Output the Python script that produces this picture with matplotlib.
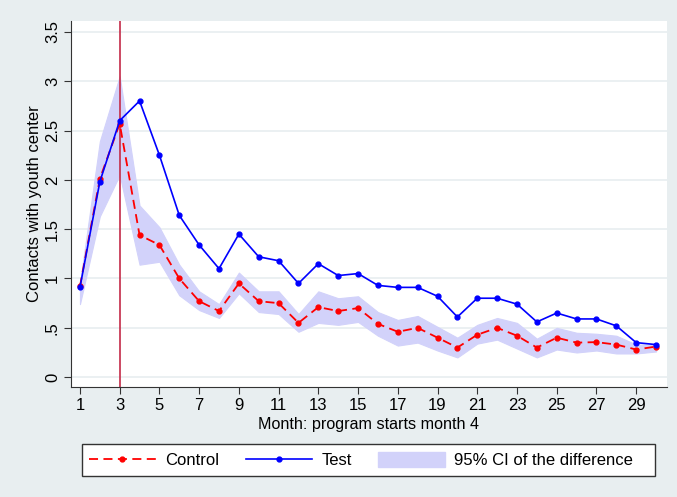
import numpy as np
import matplotlib.pyplot as plt
from matplotlib.patches import Patch, Rectangle
from matplotlib.lines import Line2D

plt.rcParams['font.family'] = ['Liberation Sans Narrow', 'Liberation Sans', 'DejaVu Sans']

months = np.arange(1, 31)

# mean monthly contacts per group
test = [0.91, 1.98, 2.60, 2.80, 2.25, 1.64, 1.34, 1.10, 1.45, 1.22,
        1.18, 0.95, 1.15, 1.03, 1.05, 0.93, 0.91, 0.91, 0.82, 0.61,
        0.80, 0.80, 0.74, 0.56, 0.65, 0.59, 0.59, 0.52, 0.35, 0.33]
control = [0.92, 2.01, 2.57, 1.44, 1.34, 1.00, 0.77, 0.67, 0.95, 0.77,
           0.75, 0.55, 0.71, 0.67, 0.70, 0.54, 0.46, 0.50, 0.40, 0.30,
           0.43, 0.50, 0.42, 0.30, 0.40, 0.35, 0.355, 0.33, 0.28, 0.31]

# 95% CI of the difference, drawn around the control series
ci_upper = [0.95, 2.39, 3.05, 1.74, 1.52, 1.14, 0.87, 0.74, 1.06, 0.87,
            0.87, 0.64, 0.87, 0.80, 0.82, 0.66, 0.58, 0.62, 0.51, 0.40,
            0.53, 0.60, 0.55, 0.39, 0.50, 0.45, 0.44, 0.42, 0.33, 0.33]
ci_lower = [0.74, 1.63, 2.05, 1.14, 1.17, 0.83, 0.68, 0.60, 0.85, 0.66,
            0.64, 0.46, 0.55, 0.53, 0.56, 0.42, 0.32, 0.35, 0.27, 0.20,
            0.34, 0.38, 0.29, 0.20, 0.28, 0.25, 0.27, 0.24, 0.24, 0.26]

start_month = 3
xticks = np.arange(1, 30, 2)
yticks = [0, 0.5, 1, 1.5, 2, 2.5, 3, 3.5]
ytick_labels = ['0', '.5', '1', '1.5', '2', '2.5', '3', '3.5']

bg = '#e8eef0'
band_col = '#d2d2fa'

fig = plt.figure(figsize=(6.77, 4.97), dpi=100, facecolor=bg)
ax = fig.add_axes([0.1049, 0.2213, 0.8803, 0.7364])
ax.set_facecolor('white')

ax.fill_between(months, ci_lower, ci_upper, color=band_col, lw=0.8, zorder=1)
ax.axvline(start_month, color='#c42a48', lw=1.2, zorder=2)
ax.plot(months, control, color='red', ls=(0, (5, 3)), lw=1.3,
        marker='o', ms=3.5, zorder=3)
ax.plot(months, test, color='blue', lw=1.2, marker='o', ms=3.5, zorder=4)

ax.set_xlim(0.55, 30.55)
ax.set_ylim(-0.1, 3.61)
ax.set_xticks(xticks)
ax.set_yticks(yticks)
ax.set_yticklabels(ytick_labels, rotation=90, va='center')
ax.yaxis.grid(True, color=bg, lw=1.2)
ax.set_axisbelow(True)
ax.tick_params(axis='both', labelsize=12, length=5, color='#333333', pad=3)

for s in ['top', 'right']:
    ax.spines[s].set_visible(False)
for s in ['left', 'bottom']:
    ax.spines[s].set_color('#333333')

ax.set_xlabel('Month: program starts month 4', fontsize=11.6, labelpad=3)
ax.set_ylabel('Contacts with youth center', fontsize=12, labelpad=2)

# legend box below the plot
fig.patches.append(Rectangle((82 / 677, 21 / 497), 573 / 677, 32 / 497,
                             transform=fig.transFigure, facecolor='white',
                             edgecolor='#333333', lw=1.0, zorder=0))

handles = [
    Line2D([], [], color='red', ls=(0, (5, 3)), lw=1.3, marker='o', ms=3.5),
    Line2D([], [], color='blue', lw=1.2, marker='o', ms=3.5),
    Patch(facecolor=band_col, edgecolor=band_col),
]
leg = fig.legend(handles, ['Control', 'Test', '95% CI of the difference'],
                 ncol=3, loc='center left',
                 bbox_to_anchor=(89 / 677, 37 / 497),
                 frameon=False, fontsize=12, numpoints=1,
                 handlelength=4.0, handleheight=1.0, columnspacing=1.6,
                 handletextpad=0.55, borderpad=0.0, borderaxespad=0.0)

fig.savefig('out.png', dpi=100, facecolor=bg)
